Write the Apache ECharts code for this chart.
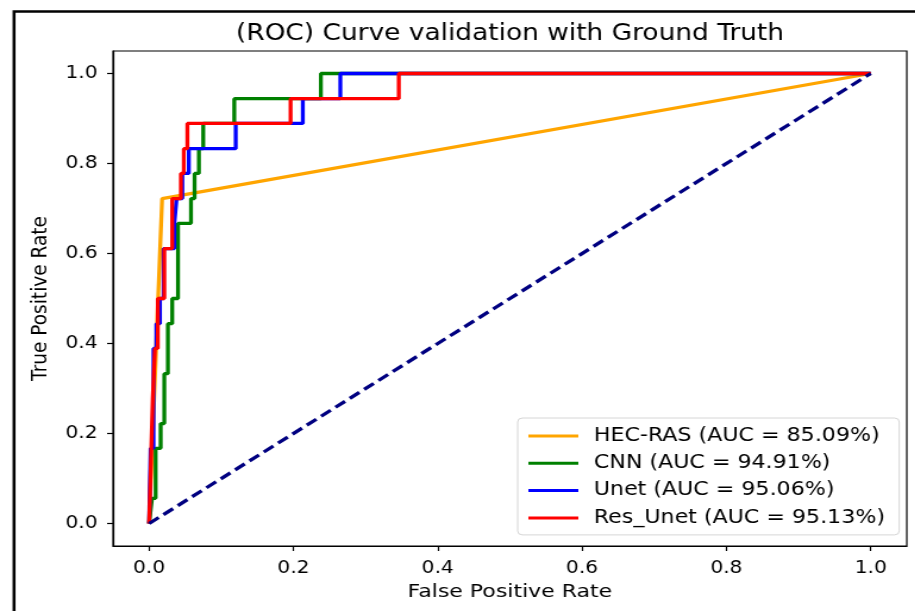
<!DOCTYPE html>
<html>
<head>
<meta charset="utf-8">
<script src="https://cdn.jsdelivr.net/npm/echarts@6/dist/echarts.min.js"></script>
<style>
  html, body { margin: 0; padding: 0; background: #fff; overflow: hidden; }
  /* the source picture is stretched sideways, so the chart is too */
  #roc { position: absolute; left: 0; top: 0; width: 769px; height: 611px;
         transform: scaleX(1.19); transform-origin: 0 0; }
</style>
</head>
<body>
<div id="roc"></div>
<script>
var titleText = '(ROC) Curve validation with Ground Truth';
var xName = 'False Positive Rate';
var yName = 'True Positive Rate';
var tickValues = [0, 0.2, 0.4, 0.6, 0.8, 1.0];

var names = ['HEC-RAS (AUC = 85.09%)', 'CNN (AUC = 94.91%)', 'Unet (AUC = 95.06%)', 'Res_Unet (AUC = 95.13%)'];
var colors = ['#ffa500', '#008000', '#0000ff', '#ff0000'];

var hecFpr = [0, 0.018, 1];
var hecTpr = [0, 0.722, 1];

var cnnFpr = [0, 0.004, 0.009, 0.009, 0.016, 0.016, 0.021, 0.021, 0.026, 0.026, 0.032, 0.032, 0.040, 0.040, 0.058, 0.058, 0.063, 0.063, 0.069, 0.069, 0.075, 0.075, 0.118, 0.118, 0.238, 0.238, 1];
var cnnTpr = [0, 0.056, 0.056, 0.167, 0.167, 0.222, 0.222, 0.333, 0.333, 0.444, 0.444, 0.5, 0.5, 0.667, 0.667, 0.722, 0.722, 0.778, 0.778, 0.833, 0.833, 0.889, 0.889, 0.944, 0.944, 1, 1];

var unetFpr = [0, 0.002, 0.006, 0.006, 0.010, 0.010, 0.015, 0.015, 0.020, 0.020, 0.035, 0.035, 0.038, 0.038, 0.046, 0.046, 0.055, 0.055, 0.120, 0.120, 0.213, 0.213, 0.265, 0.265, 1];
var unetTpr = [0, 0.167, 0.167, 0.389, 0.389, 0.444, 0.444, 0.5, 0.5, 0.611, 0.611, 0.667, 0.667, 0.722, 0.722, 0.778, 0.778, 0.833, 0.833, 0.889, 0.889, 0.944, 0.944, 1, 1];

var resFpr = [0, 0.003, 0.005, 0.005, 0.008, 0.008, 0.012, 0.012, 0.021, 0.021, 0.032, 0.032, 0.044, 0.044, 0.048, 0.048, 0.053, 0.053, 0.196, 0.196, 0.346, 0.346, 1];
var resTpr = [0, 0.167, 0.167, 0.278, 0.278, 0.389, 0.389, 0.5, 0.5, 0.611, 0.611, 0.722, 0.722, 0.778, 0.778, 0.833, 0.833, 0.889, 0.889, 0.944, 0.944, 1, 1];

var chanceX = [0, 1];
var chanceY = [0, 1];

function zip(xs, ys) {
    var out = [];
    for (var i = 0; i < xs.length; i++) out.push([xs[i], ys[i]]);
    return out;
}

var curves = [zip(hecFpr, hecTpr), zip(cnnFpr, cnnTpr), zip(unetFpr, unetTpr), zip(resFpr, resTpr)];
var font = 'DejaVu Sans';

var series = [];
for (var i = 0; i < curves.length; i++) {
    series.push({
        name: names[i],
        type: 'line',
        data: curves[i],
        symbol: 'none',
        animation: false,
        lineStyle: { color: colors[i], width: 3.3 },
        itemStyle: { color: colors[i] }
    });
}
series.push({
    name: 'chance',
    type: 'line',
    data: zip(chanceX, chanceY),
    symbol: 'none',
    animation: false,
    lineStyle: { color: '#000080', width: 3.3, type: [10, 5] }
});

var axisCommon = {
    type: 'value',
    min: -0.05,
    max: 1.05,
    nameLocation: 'middle',
    nameTextStyle: { fontFamily: font, fontSize: 18.5, color: '#000' },
    axisLine: { show: true, onZero: false, lineStyle: { color: '#000', width: 1.2 } },
    axisTick: { show: true, customValues: tickValues, length: 5, lineStyle: { color: '#000', width: 1.2 } },
    axisLabel: {
        customValues: tickValues,
        fontFamily: font, fontSize: 17, color: '#000',
        formatter: function (v) { return v.toFixed(1); }
    },
    splitLine: { show: false }
};

var chart = echarts.init(document.getElementById('roc'));
var option = {
    backgroundColor: '#fff',
    animation: false,
    title: {
        text: titleText,
        left: 428.6,
        top: 23,
        padding: 0,
        textAlign: 'center',
        textStyle: { fontFamily: font, fontSize: 22.2, fontWeight: 'normal', color: '#000' }
    },
    grid: {
        left: 95, right: 7, top: 51, bottom: 65,
        show: true, borderColor: '#000', borderWidth: 1.2
    },
    legend: {
        data: names,
        orient: 'vertical',
        left: 435,
        top: 418,
        padding: [8, 12, 7, 9],
        itemGap: 7.3,
        itemWidth: 42,
        itemHeight: 3,
        icon: 'rect',
        backgroundColor: '#fff',
        borderColor: '#d6d6d6',
        borderWidth: 1,
        borderRadius: 4,
        textStyle: { fontFamily: font, fontSize: 18.6, color: '#000', lineHeight: 20, padding: [0, 0, 0, 8] }
    },
    xAxis: Object.assign({}, axisCommon, {
        name: xName,
        nameGap: 37,
        axisLabel: Object.assign({}, axisCommon.axisLabel, { margin: 14 })
    }),
    yAxis: Object.assign({}, axisCommon, {
        name: yName,
        nameGap: 48,
        axisLabel: Object.assign({}, axisCommon.axisLabel, { margin: 13 })
    }),
    graphic: [{
        type: 'polyline',
        shape: { points: [[11.8, 611], [11.8, 11.5], [769, 11.5]] },
        style: { stroke: '#000', lineWidth: 2.5, fill: null },
        silent: true
    }],
    series: series
};
chart.setOption(option);
</script>
</body>
</html>
